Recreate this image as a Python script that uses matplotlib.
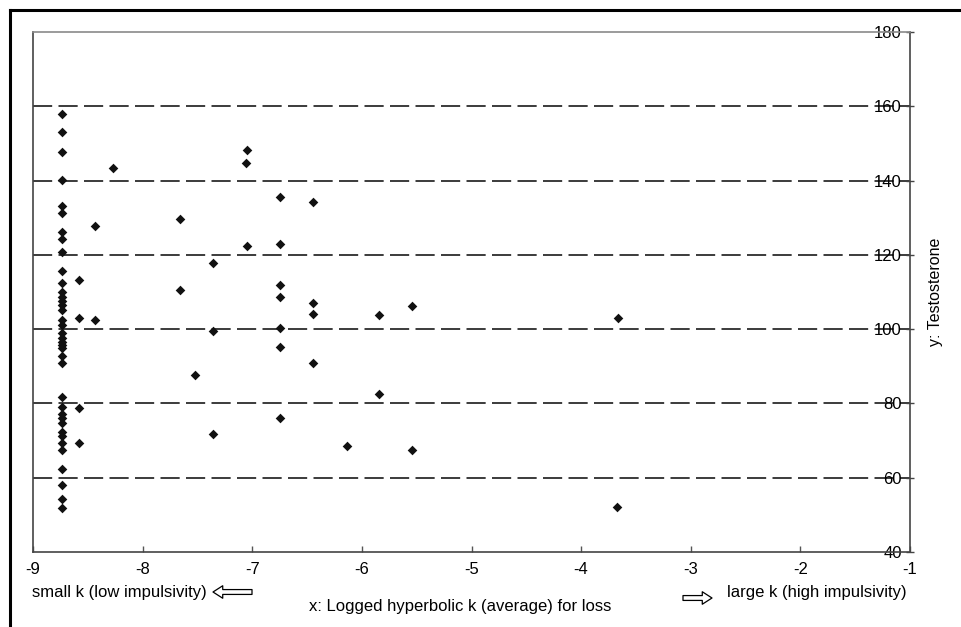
import matplotlib
matplotlib.use("Agg")
import matplotlib.pyplot as plt
from matplotlib.lines import Line2D

plt.rcParams['font.family'] = ['Liberation Sans', 'DejaVu Sans']

# dense column of small-k participants
col_x = -8.74
col_y = [157.9, 153.0, 147.6, 140.2, 133.2, 131.2, 126.2, 124.2, 120.7, 115.7,
         112.5, 109.9, 108.7, 107.6, 106.5, 105.2, 102.5, 101.1, 98.9, 97.5,
         96.6, 95.7, 94.9, 92.9, 90.8, 81.7, 79.1, 77.1, 76.0, 74.7,
         72.4, 71.1, 69.3, 67.5, 62.4, 58.1, 54.3, 51.8]

# remaining points
other_x = [-8.58, -8.58, -8.58, -8.58, -8.43, -8.43, -8.27, -7.66, -7.66, -7.52,
           -7.36, -7.36, -7.36, -7.05, -7.06, -7.05, -6.75, -6.75, -6.75, -6.75,
           -6.75, -6.75, -6.75, -6.45, -6.45, -6.45, -6.45, -6.14, -5.84, -5.84,
           -5.54, -5.54, -3.66, -3.67]
other_y = [113.1, 103.1, 78.8, 69.4, 127.9, 102.5, 143.5, 129.6, 110.6, 87.6,
           117.9, 99.5, 71.8, 148.2, 144.7, 122.3, 135.7, 122.9, 111.9, 108.6,
           100.3, 95.3, 76.0, 134.1, 107.0, 104.0, 90.8, 68.6, 103.8, 82.6,
           106.1, 67.5, 102.9, 52.1]

x = [col_x] * len(col_y) + other_x
y = col_y + other_y

x_ticks = [-9, -8, -7, -6, -5, -4, -3, -2, -1]
y_ticks = [40, 60, 80, 100, 120, 140, 160, 180]

W, H = 962, 627
fig = plt.figure(figsize=(W / 100, H / 100), dpi=100)
ax = fig.add_axes([33 / W, 1 - 552 / H, (910 - 33) / W, (552 - 32) / H])

ax.scatter(x, y, marker='D', s=24, color='#111111', linewidths=0, zorder=3)

ax.set_xlim(-9, -1)
ax.set_ylim(40, 180)
ax.set_xticks(x_ticks)
ax.set_xticklabels([str(t) for t in x_ticks])
ax.set_yticks(y_ticks)

# dashed horizontal grid
ax.grid(axis='y', color='#1a1a1a', linewidth=1.2, linestyle=(0, (11.5, 3.8)))
gls = ax.yaxis.get_gridlines()
gls[0].set_visible(False)
gls[-1].set_visible(False)

# y axis sits on the right, labels drawn inside the plot
ax.yaxis.tick_right()
ax.tick_params(axis='y', direction='inout', length=6, width=1, color='#444444',
               pad=-9, labelsize=12)
for lbl in ax.get_yticklabels():
    lbl.set_horizontalalignment('right')
ax.tick_params(axis='x', direction='in', length=4.5, width=1, color='#555555',
               pad=7, labelsize=12)

for side in ['left', 'bottom', 'right']:
    ax.spines[side].set_color('#444444')
    ax.spines[side].set_linewidth(1.2)
ax.spines['top'].set_color('#8a8a8a')
ax.spines['top'].set_linewidth(1.2)

ax.yaxis.set_label_position('right')
ax.set_ylabel('y: Testosterone', fontsize=11.5, labelpad=10)

def fy(py):
    return 1 - py / H

fig.text(32 / W, fy(592), 'small k (low impulsivity)', fontsize=12,
         ha='left', va='center')
fig.text(460 / W, fy(607), 'x: Logged hyperbolic k (average) for loss',
         fontsize=12, ha='center', va='center')
fig.text(727 / W, fy(593), 'large k (high impulsivity)', fontsize=12,
         ha='left', va='center')

arrow = dict(arrowstyle='simple,head_length=0.7,head_width=0.9,tail_width=0.35',
             fc='white', ec='black', lw=0.9, shrinkA=0, shrinkB=0)
ax.annotate('', xy=(213, H - 592), xytext=(252, H - 592),
            xycoords='figure pixels', textcoords='figure pixels',
            arrowprops=arrow, annotation_clip=False)
ax.annotate('', xy=(712, H - 598), xytext=(683, H - 598),
            xycoords='figure pixels', textcoords='figure pixels',
            arrowprops=arrow, annotation_clip=False)

# outer frame (left and top edges visible)
fig.add_artist(Line2D([10 / W, 10 / W], [0, fy(10)], color='black', lw=2.2,
                      transform=fig.transFigure))
fig.add_artist(Line2D([10 / W, 1], [fy(10), fy(10)], color='black', lw=2.2,
                      transform=fig.transFigure))

fig.savefig('out.png', dpi=100)
